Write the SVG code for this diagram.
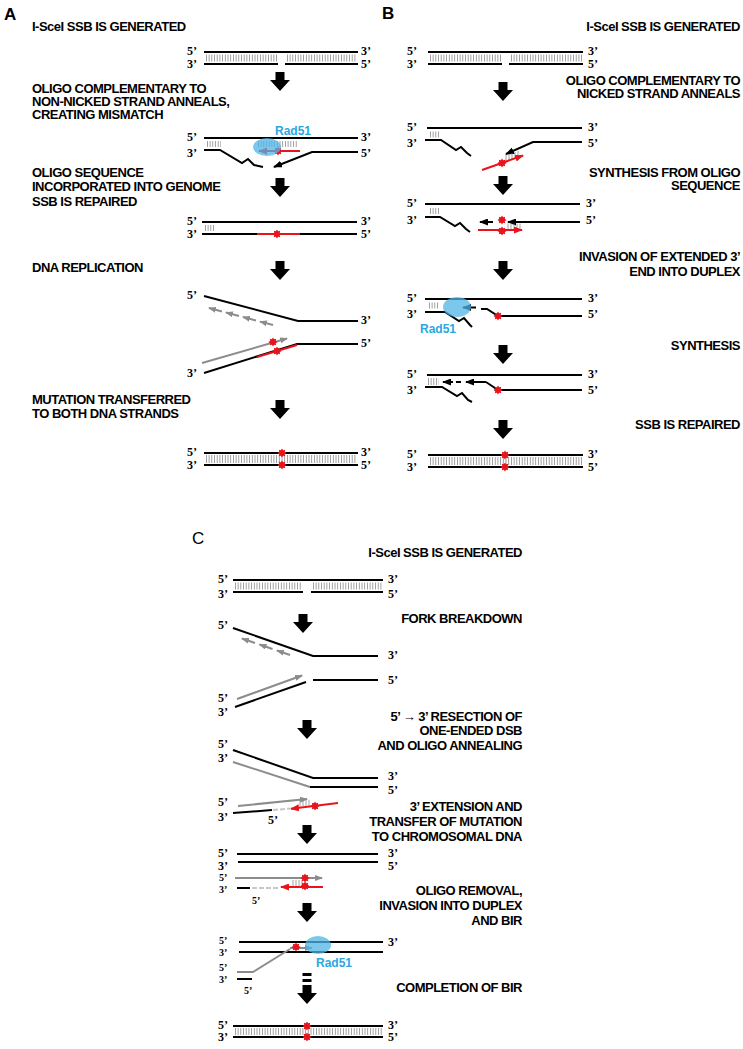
<svg xmlns="http://www.w3.org/2000/svg" xmlns:xlink="http://www.w3.org/1999/xlink" width="743" height="1049" viewBox="0 0 743 1049">
<style>
.t{font-family:"Liberation Sans",Arial,sans-serif;font-weight:bold;font-size:13px;letter-spacing:-0.5px;fill:#000}
.te{text-anchor:end}
.e{font-family:"Liberation Serif","Times New Roman",serif;font-weight:bold;font-size:12px;fill:#000}
.es{font-size:10px}
.pl{font-family:"Liberation Sans",Arial,sans-serif;font-size:17px;fill:#000}
.plb{font-weight:bold}
.rad{font-family:"Liberation Sans",Arial,sans-serif;font-weight:bold;font-size:12px;fill:#2aa7e1}
.s{fill:none;stroke:#000;stroke-width:2}
.g{fill:none;stroke:#8c8c8c;stroke-width:2}
.r{fill:none;stroke:#e8141c;stroke-width:2}
.lg{fill:none;stroke:#c8c8c8;stroke-width:2;stroke-dasharray:5 2}
.tk{fill:none;stroke:#8a8a8a;stroke-dasharray:0.8 1.9}
.tks{fill:none;stroke:#8a8a8a;stroke-width:0.8}
.bl{fill:#4fb6e6;fill-opacity:0.75}
.ar{fill:#000}
.st{fill:#e8141c}
</style>
<defs>
<path id="star" d="M4.5,0 L2.77,1.15 L3.18,3.18 L1.15,2.77 L0,4.5 L-1.15,2.77 L-3.18,3.18 L-2.77,1.15 L-4.5,0 L-2.77,-1.15 L-3.18,-3.18 L-1.15,-2.77 L0,-4.5 L1.15,-2.77 L3.18,-3.18 L2.77,-1.15 Z"/>
<path id="barrow" d="M-4.5,0 H4.5 V8 H10 L0,19 L-10,8 H-4.5 Z"/>
<marker id="mk" markerUnits="userSpaceOnUse" markerWidth="9" markerHeight="7" refX="8" refY="3.5" orient="auto"><path d="M0,0 L9,3.5 L0,7 Z" fill="#000"/></marker>
<marker id="mg" markerUnits="userSpaceOnUse" markerWidth="8" markerHeight="6" refX="7" refY="3" orient="auto"><path d="M0,0 L8,3 L0,6 Z" fill="#8c8c8c"/></marker>
<marker id="mr" markerUnits="userSpaceOnUse" markerWidth="9" markerHeight="7" refX="8" refY="3.5" orient="auto"><path d="M0,0 L9,3.5 L0,7 Z" fill="#e8141c"/></marker>
</defs>

<!-- PANEL A -->
<g id="panelA-labels">
<text class="pl plb" x="4" y="20">A</text>
<text class="t" x="32" y="31">I-SceI SSB IS GENERATED</text>
<text class="t" x="32" y="93">OLIGO COMPLEMENTARY TO</text>
<text class="t" x="32" y="106">NON-NICKED  STRAND ANNEALS,</text>
<text class="t" x="32" y="119">CREATING MISMATCH</text>
<text class="t" x="32" y="177">OLIGO SEQUENCE</text>
<text class="t" x="32" y="191">INCORPORATED  INTO GENOME</text>
<text class="t" x="32" y="206">SSB IS REPAIRED</text>
<text class="t" x="32" y="272">DNA  REPLICATION</text>
<text class="t" x="32" y="404">MUTATION TRANSFERRED</text>
<text class="t" x="32" y="418">TO BOTH DNA  STRANDS</text>
</g>

<g id="A1">
<path class="tk" stroke-width="7" d="M206,58 H277 M287,58 H357"/>
<path class="s" d="M204,52 H358 M204,64 H278 M285,64 H358"/>
<text class="e" x="187" y="55">5’</text><text class="e" x="187" y="68">3’</text>
<text class="e" x="361" y="55">3’</text><text class="e" x="361" y="68">5’</text>
</g>

<g id="A2">
<text class="rad" x="275" y="135">Rad51</text>
<path class="tk" stroke-width="6" d="M207,144 H221 M258,144 H298"/>
<path class="s" d="M204,138 H358"/>
<path class="s" d="M204,150 H220 L242,163 L248,159 L254,165 L263,167"/>
<path class="s" d="M358,152 H312 L274,167" marker-end="url(#mk)"/>
<path class="r" d="M300,151 H259" marker-end="url(#mr)"/>
<use href="#star" class="st" x="278" y="151"/>
<ellipse class="bl" cx="267" cy="147" rx="14" ry="9"/>
<text class="e" x="187" y="141">5’</text><text class="e" x="187" y="157">3’</text>
<text class="e" x="361" y="141">3’</text><text class="e" x="361" y="157">5’</text>
</g>

<g id="A3">
<path class="tk" stroke-width="6" d="M205,228 H214"/>
<path class="s" d="M202,222 H357 M202,234 H357"/>
<path class="r" d="M257,234 H300"/>
<use href="#star" class="st" x="277" y="234"/>
<text class="e" x="187" y="225">5’</text><text class="e" x="187" y="238">3’</text>
<text class="e" x="361" y="225">3’</text><text class="e" x="361" y="238">5’</text>
</g>

<g id="A4">
<path class="s" d="M204,296 L298,321 H358"/>
<path class="g" stroke-width="1.6" d="M273,325 L260,321.6" marker-end="url(#mg)"/>
<path class="g" stroke-width="1.6" d="M256,320.5 L243,317" marker-end="url(#mg)"/>
<path class="g" stroke-width="1.6" d="M239,316 L226,312.5" marker-end="url(#mg)"/>
<path class="g" stroke-width="1.6" d="M222,311.5 L209,308" marker-end="url(#mg)"/>
<path class="s" d="M358,344 H297 L204,373"/>
<path class="r" d="M297,345 L257,357"/>
<path class="g" d="M202,363 L287,338.5" marker-end="url(#mg)"/>
<use href="#star" class="st" x="273" y="342"/>
<use href="#star" class="st" x="277" y="351"/>
<text class="e" x="187" y="299">5’</text><text class="e" x="361" y="324">3’</text>
<text class="e" x="361" y="347">5’</text><text class="e" x="187" y="377">3’</text>
</g>

<g id="A5">
<path class="tk" stroke-width="8" d="M206,459 H357"/>
<path class="s" d="M204,453 H358 M204,465 H358"/>
<use href="#star" class="st" x="282" y="453"/>
<use href="#star" class="st" x="282" y="465"/>
<text class="e" x="187" y="456">5’</text><text class="e" x="187" y="469">3’</text>
<text class="e" x="361" y="456">3’</text><text class="e" x="361" y="469">5’</text>
</g>

<!-- PANEL B -->
<g id="panelB-labels">
<text class="pl plb" x="382" y="19">B</text>
<text class="t te" x="740" y="31">I-SceI SSB IS GENERATED</text>
<text class="t te" x="740" y="85">OLIGO COMPLEMENTARY  TO</text>
<text class="t te" x="740" y="98">NICKED  STRAND ANNEALS</text>
<text class="t te" x="740" y="177">SYNTHESIS  FROM OLIGO</text>
<text class="t te" x="740" y="190">SEQUENCE</text>
<text class="t te" x="740" y="261">INVASION OF EXTENDED  3’</text>
<text class="t te" x="740" y="276">END INTO DUPLEX</text>
<text class="t te" x="740" y="350">SYNTHESIS</text>
<text class="t te" x="740" y="429">SSB IS REPAIRED</text>
</g>

<g id="B1">
<path class="tk" stroke-width="7" d="M430,58 H501 M511,58 H582"/>
<path class="s" d="M428,52 H583 M428,64 H502 M509,64 H583"/>
<text class="e" x="407" y="55">5’</text><text class="e" x="407" y="68">3’</text>
<text class="e" x="588" y="55">3’</text><text class="e" x="588" y="68">5’</text>
</g>

<g id="B2">
<path class="tk" stroke-width="6" d="M430,134.5 H439"/>
<path class="s" d="M427,128 H582"/>
<path class="s" d="M425,140 H441 L456,150 L461,147 L467,153 L471,156"/>
<path class="s" d="M582,142 H533 L506,154" marker-end="url(#mk)"/>
<path class="tks" d="M506,161 V155 M509,160 V154 M512,159 V153 M515,158 V152 M518,157 V151"/>
<path class="r" d="M482,170 L523,155.5" marker-end="url(#mr)"/>
<use href="#star" class="st" x="502" y="163"/>
<text class="e" x="407" y="131">5’</text><text class="e" x="407" y="147">3’</text>
<text class="e" x="588" y="131">3’</text><text class="e" x="588" y="147">5’</text>
</g>

<g id="B3">
<path class="tk" stroke-width="6" d="M430,211 H439"/>
<path class="s" d="M425,204 H580"/>
<path class="s" d="M425,217 H440 L455,226 L460,223 L466,229 L470,232"/>
<path class="s" d="M580,222 H508" marker-end="url(#mk)"/>
<path class="s" d="M493,222 H480" marker-end="url(#mk)"/>
<path class="tks" d="M508,223.5 V229 M511,223.5 V229 M514,223.5 V229 M517,223.5 V229 M520,223.5 V229"/>
<path class="r" d="M478,230 H522" marker-end="url(#mr)"/>
<use href="#star" class="st" x="502" y="220"/>
<use href="#star" class="st" x="502" y="231"/>
<text class="e" x="407" y="207">5’</text><text class="e" x="407" y="224">3’</text>
<text class="e" x="586" y="207">3’</text><text class="e" x="586" y="224">5’</text>
</g>

<g id="B4">
<path class="tk" stroke-width="6" d="M429,305.5 H439"/>
<path class="s" d="M425,299 H582"/>
<path class="s" d="M425,312 H445 L459,321 L464,318 L470,325 L472,327"/>
<path class="s" d="M582,316 H498 L487,309 H481"/>
<path class="s" d="M476,307.5 H463" marker-end="url(#mk)"/>
<use href="#star" class="st" x="498" y="316"/>
<ellipse class="bl" cx="457" cy="307" rx="14" ry="10"/>
<text class="rad" x="420" y="333">Rad51</text>
<text class="e" x="407" y="302">5’</text><text class="e" x="407" y="318">3’</text>
<text class="e" x="588" y="302">3’</text><text class="e" x="588" y="318">5’</text>
</g>

<g id="B5">
<path class="tk" stroke-width="7" d="M428,381.5 H439"/>
<path class="s" d="M427,375 H582"/>
<path class="s" d="M425,387 H442 L457,396 L462,393 L468,400 L472,402"/>
<path class="s" d="M453,382 H443" marker-end="url(#mk)"/>
<path class="s" d="M456,382 H461"/>
<path class="s" d="M486,382 H466" marker-end="url(#mk)"/>
<path class="s" d="M486,382 L498,390 H582"/>
<use href="#star" class="st" x="498" y="390"/>
<text class="e" x="407" y="378">5’</text><text class="e" x="407" y="394">3’</text>
<text class="e" x="588" y="378">3’</text><text class="e" x="588" y="394">5’</text>
</g>

<g id="B6">
<path class="tk" stroke-width="8" d="M430,461 H582"/>
<path class="s" d="M428,455 H583 M428,467 H583"/>
<use href="#star" class="st" x="505" y="455"/>
<use href="#star" class="st" x="505" y="467"/>
<text class="e" x="407" y="458">5’</text><text class="e" x="407" y="471">3’</text>
<text class="e" x="588" y="458">3’</text><text class="e" x="588" y="471">5’</text>
</g>

<!-- PANEL C -->
<g id="panelC-labels">
<text class="pl" x="192" y="544">C</text>
<text class="t te" x="522" y="557">I-SceI SSB IS GENERATED</text>
<text class="t te" x="522" y="623">FORK  BREAKDOWN</text>
<text class="t te" x="522" y="721">5’ → 3’ RESECTION  OF</text>
<text class="t te" x="522" y="735">ONE-ENDED  DSB</text>
<text class="t te" x="522" y="750">AND OLIGO ANNEALING</text>
<text class="t te" x="522" y="811">3’ EXTENSION  AND</text>
<text class="t te" x="522" y="826">TRANSFER  OF MUTATION</text>
<text class="t te" x="522" y="841">TO CHROMOSOMAL DNA</text>
<text class="t te" x="522" y="895">OLIGO REMOVAL,</text>
<text class="t te" x="522" y="910">INVASION INTO DUPLEX</text>
<text class="t te" x="522" y="925">AND BIR</text>
<text class="t te" x="522" y="992">COMPLETION OF BIR</text>
</g>

<g id="C1">
<path class="tk" stroke-width="7" d="M235,586 H302 M313,586 H382"/>
<path class="s" d="M233,580 H383 M233,592 H303 M311,592 H383"/>
<text class="e" x="218" y="583">5’</text><text class="e" x="218" y="598">3’</text>
<text class="e" x="388" y="583">3’</text><text class="e" x="388" y="598">5’</text>
</g>

<g id="C2">
<path class="s" d="M233,628 L313,656 H378"/>
<path class="g" stroke-width="1.6" d="M290,655 L277,650.5" marker-end="url(#mg)"/>
<path class="g" stroke-width="1.6" d="M272.5,649 L259.5,644.5" marker-end="url(#mg)"/>
<path class="g" stroke-width="1.6" d="M255,643 L242,638.5" marker-end="url(#mg)"/>
<path class="s" d="M313,680 H378"/>
<path class="s" d="M235,707 L306,682"/>
<path class="g" d="M237,699 L302,675.5" marker-end="url(#mg)"/>
<text class="e" x="218" y="629">5’</text><text class="e" x="388" y="659">3’</text>
<text class="e" x="388" y="684">5’</text>
<text class="e" x="218" y="702">5’</text><text class="e" x="218" y="716">3’</text>
</g>

<g id="C3">
<path class="s" d="M233,750 L313,778 H378"/>
<path class="g" d="M233,762 L310,787"/>
<path class="s" d="M310,787 H378"/>
<text class="e" x="218" y="748">5’</text><text class="e" x="218" y="762">3’</text>
<text class="e" x="388" y="780">3’</text><text class="e" x="388" y="794">5’</text>
</g>

<g id="C4">
<path class="g" d="M238,806 L307,799" marker-end="url(#mg)"/>
<path class="tks" d="M300,800.5 V806.5 M303,800.2 V806 M306,800 V805.8 M309,799.8 V805.5"/>
<path class="lg" d="M273,810 L290,808.5"/>
<path class="s" d="M233,813 L272,810"/>
<path class="r" d="M338,803 L291,808.8" marker-end="url(#mr)"/>
<use href="#star" class="st" x="315" y="806"/>
<text class="e" x="218" y="806">5’</text><text class="e" x="218" y="821">3’</text>
<text class="e" x="268" y="824">5’</text>
</g>

<g id="C5">
<path class="s" d="M237,854 H378 M238,862 H378"/>
<text class="e" x="218" y="857">5’</text><text class="e" x="218" y="870">3’</text>
<text class="e" x="388" y="857">3’</text><text class="e" x="388" y="870">5’</text>
</g>

<g id="C6">
<path class="g" d="M235,878 H322" marker-end="url(#mg)"/>
<path class="tks" d="M293,880 V886 M296,880 V886 M299,880 V886 M302,880 V886"/>
<path class="s" d="M237,888 H250"/>
<path class="lg" d="M252,888 H279"/>
<path class="r" d="M323,887 H281" marker-end="url(#mr)"/>
<use href="#star" class="st" x="305" y="878"/>
<use href="#star" class="st" x="305" y="886"/>
<text class="e es" x="219" y="881">5’</text><text class="e es" x="219" y="893">3’</text>
<text class="e es" x="252" y="904">5’</text>
</g>

<g id="C7">
<path class="s" d="M239,942 H383 M239,952 H383"/>
<path class="g" d="M237,972 H253 L290,949"/>
<path class="g" stroke-width="1.6" d="M290,948 H312" marker-end="url(#mg)"/>
<path class="s" d="M237,979 H252"/>
<use href="#star" class="st" x="296" y="947"/>
<ellipse class="bl" cx="318" cy="945" rx="13" ry="9"/>
<text class="rad" x="316" y="967">Rad51</text>
<text class="e es" x="219" y="944">5’</text><text class="e es" x="219" y="956">3’</text>
<text class="e" x="388" y="946">3’</text>
<text class="e es" x="219" y="971">5’</text><text class="e es" x="219" y="983">3’</text>
<text class="e es" x="244" y="994">5’</text>
</g>

<g id="C8">
<path class="tk" stroke-width="7" d="M235,1031.5 H382"/>
<path class="s" d="M233,1026 H383 M233,1037 H383"/>
<use href="#star" class="st" x="307" y="1026"/>
<use href="#star" class="st" x="307" y="1037"/>
<text class="e" x="218" y="1029">5’</text><text class="e" x="218" y="1041">3’</text>
<text class="e" x="388" y="1029">3’</text><text class="e" x="388" y="1041">5’</text>
</g>

<g id="connectors">
<use href="#barrow" class="ar" x="280" y="72"/>
<use href="#barrow" class="ar" x="280" y="178"/>
<use href="#barrow" class="ar" x="280" y="261"/>
<use href="#barrow" class="ar" x="280" y="400"/>
<use href="#barrow" class="ar" x="503" y="82"/>
<use href="#barrow" class="ar" x="503" y="176"/>
<use href="#barrow" class="ar" x="503" y="261"/>
<use href="#barrow" class="ar" x="503" y="345"/>
<use href="#barrow" class="ar" x="503" y="420"/>
<use href="#barrow" class="ar" x="303" y="614"/>
<use href="#barrow" class="ar" x="307" y="720"/>
<use href="#barrow" class="ar" x="307" y="825"/>
<use href="#barrow" class="ar" x="307" y="903"/>
<path class="ar" d="M302.5,973 H311.5 V976 H302.5 Z M302.5,979 H311.5 V982 H302.5 Z"/>
<use href="#barrow" class="ar" x="307" y="985"/>
</g>
</svg>
